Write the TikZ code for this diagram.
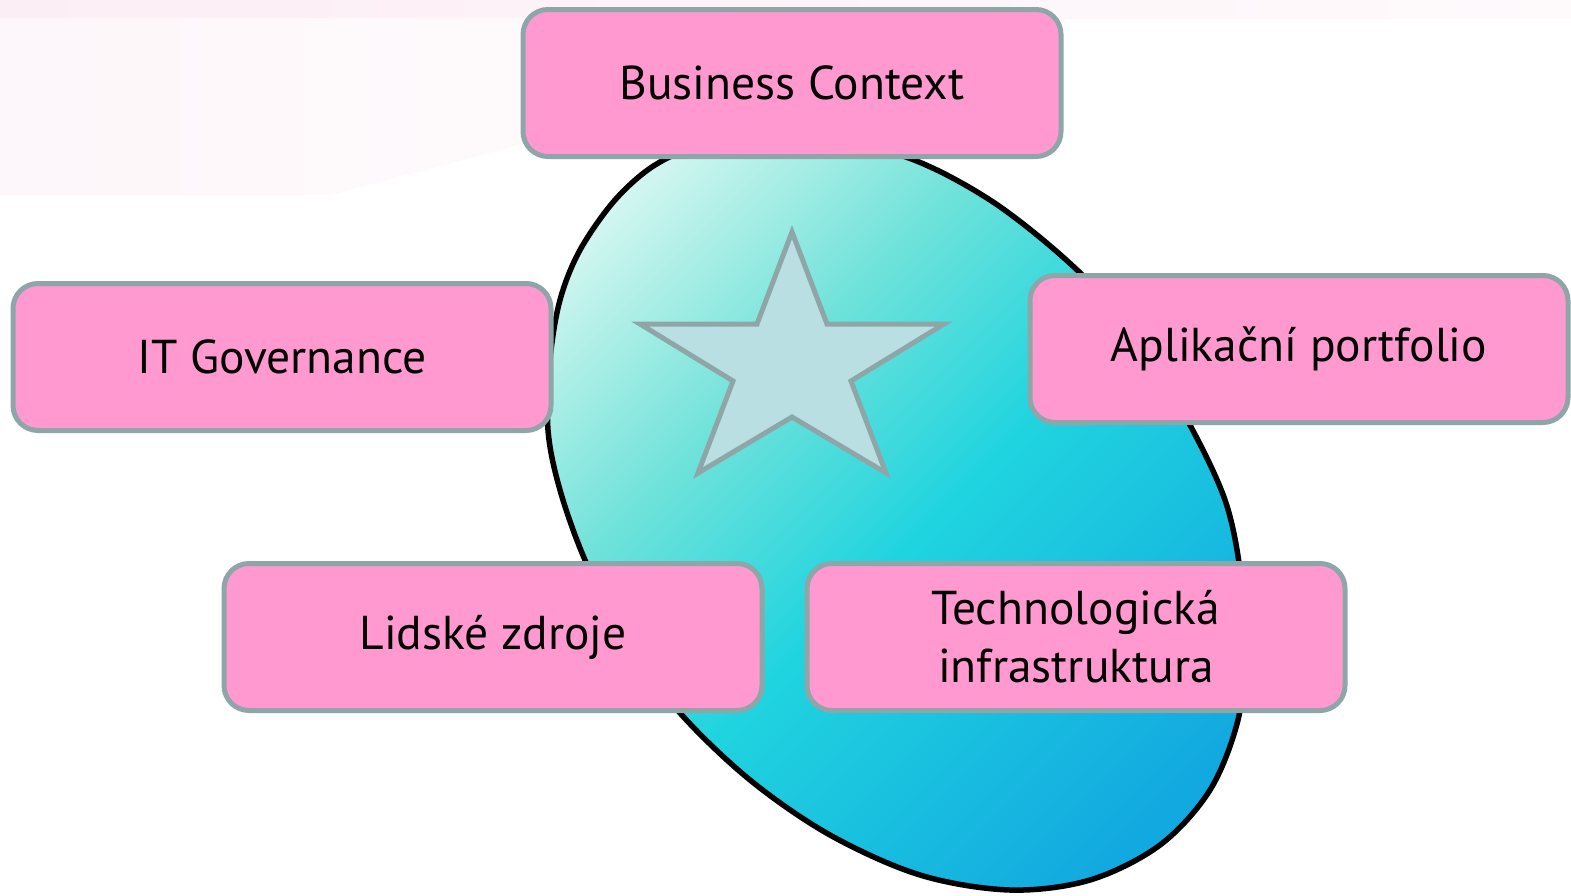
\documentclass[tikz,border=0pt]{standalone}
\usepackage{fontspec}
\setmainfont{PT Sans}
\definecolor{boxpink}{HTML}{FF99CF}
\definecolor{boxgray}{HTML}{8FA6A8}
\definecolor{starfill}{HTML}{B9DFE3}
\definecolor{blobA}{HTML}{F2FCFA}
\definecolor{blobL}{HTML}{B4F0E8}
\definecolor{blobM}{HTML}{6FE2DA}
\definecolor{blobB}{HTML}{20D4DF}
\definecolor{blobC}{HTML}{12A8E0}
\definecolor{bgpink}{HTML}{FCEEF5}
\pgfdeclareverticalshading{blobshade}{100bp}{color(0bp)=(blobC); color(22bp)=(blobC); color(48bp)=(blobB); color(63bp)=(blobM); color(74bp)=(blobL); color(84bp)=(blobA); color(100bp)=(blobA)}
\tikzset{
  pinkbox/.style={draw=boxgray, line width=5pt, fill=boxpink, rounded corners=25pt,
    minimum width=538pt, minimum height=147pt, inner sep=0pt, align=center,
    font=\fontsize{47.5}{58}\selectfont, text=black},
  blobline/.style={draw=black, line width=5.5pt},
  starstyle/.style={draw=boxgray, line width=5pt, fill=starfill, line join=miter}
}
\begin{document}
\begin{tikzpicture}[x=1pt,y=-1pt]
\useasboundingbox (0,0) rectangle (1571,895);
\fill[white] (0,0) rectangle (1571,895);
% faint background
\shade[left color=bgpink, right color=bgpink!30] (0,0) rectangle (1571,18);
\shade[left color=bgpink!55, right color=white] (0,18) -- (1000,18) -- (330,195) -- (0,195) -- cycle;
% blob
\path[blobline, shading=blobshade, shading angle=45]
  plot[smooth cycle, tension=0.55] coordinates {
    (700,148) (800,140) (900,155) (990,200) (1075,268) (1140,340) (1190,425)
    (1225,500) (1240,570) (1245,650) (1238,720) (1210,790) (1160,845)
    (1090,880) (1010,890) (920,875) (830,835) (750,780) (680,713) (625,640)
    (585,560) (560,490) (548,430) (550,360) (560,300) (580,250) (615,200) (655,165)};
% star
\draw[starstyle] (792,232) -- (827,324) -- (944,324) -- (851,381) -- (886,473)
  -- (792,417) -- (698,473) -- (733,381) -- (640,324) -- (757,324) -- cycle;
% boxes
\node[pinkbox] (bc) at (792,83) {Business Context};
\node[pinkbox] (itg) at (282,357) {IT Governance};
\node[pinkbox] (ap) at (1299,349) {Aplikační portfolio};
\node[pinkbox] (lz) at (493,637) {Lidské zdroje};
\node[pinkbox] (ti) at (1076,637) {Technologická\\infrastruktura};
\end{tikzpicture}
\end{document}
